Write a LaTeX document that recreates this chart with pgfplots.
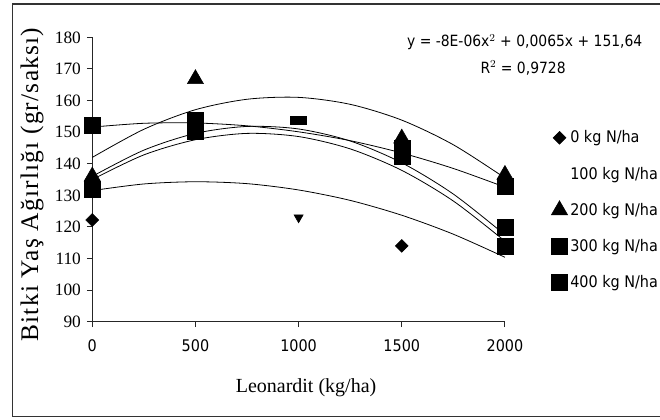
\documentclass[border=0pt]{standalone}
\usepackage{fontspec}
\setmainfont{Liberation Serif}
\newfontfamily\tah{DejaVu Sans Condensed}
\newfontfamily\ylab[LetterSpace=5]{Liberation Serif}
\usepackage{pgfplots}
\pgfplotsset{compat=1.18}

\begin{document}
\begin{tikzpicture}
\begin{axis}[
    scale only axis,
    width=309.5pt, height=213.3pt,
    xmin=0, xmax=2000, ymin=90, ymax=180,
    axis lines*=left,
    axis line style={black!85, line width=0.8pt},
    xtick={0,500,...,2000},
    ytick={90,100,...,180},
    tick align=outside,
    major tick length=4pt,
    tick style={black!85, line width=0.8pt},
    /pgf/number format/assume math mode=true,
    /pgf/number format/1000 sep={},
    xticklabel style={font=\tah\fontsize{12}{12}\selectfont, yshift=-6pt},
    yticklabel style={font=\fontsize{13}{12}\selectfont, xshift=-1pt},
    xlabel={Leonardit (kg/ha)},
    xlabel style={at={(axis description cs:0.518,-0.2335)}, anchor=center,
        font=\fontsize{15}{15}\selectfont},
    ylabel={Bitki Yaş Ağırlığı (gr/saksı)},
    ylabel style={at={(axis description cs:-0.146,0.482)}, anchor=center,
        font=\ylab\fontsize{19}{19}\selectfont},
    clip=false,
    legend style={at={(axis description cs:1.112,0.682)}, anchor=north west,
        draw=none, fill=none, font=\tah\fontsize{12}{13}\selectfont,
        row sep=12.5pt, inner sep=0pt},
    legend cell align=left,
    legend image code/.code={\draw[mark repeat=2,mark phase=2,#1]
        plot coordinates {(0cm,0cm) (0.15cm,0cm) (0.3cm,0cm)};},
    trend/.style={black, line width=0.6pt, smooth, mark=none, forget plot},
]
% quadratic trend lines
\addplot[trend] coordinates {(0,142) (250,150.9) (500,157.1) (750,160.4) (1000,161)
    (1250,158.8) (1500,153.8) (1750,146) (2000,135.5)};
\addplot[trend] coordinates {(0,151.6) (250,152.8) (500,152.9) (750,152) (1000,150.1)
    (1250,147.3) (1500,143.4) (1750,138.5) (2000,132.6)};
\addplot[trend] coordinates {(0,136) (250,144.3) (500,149.6) (750,151.8) (1000,151)
    (1250,147.2) (1500,140.3) (1750,130.4) (2000,117.5)};
\addplot[trend] coordinates {(0,135) (250,142.8) (500,147.6) (750,149.6) (1000,148.6)
    (1250,144.7) (1500,137.9) (1750,128.2) (2000,115.5)};
\addplot[trend] coordinates {(0,131.5) (250,133.6) (500,134.3) (750,133.7) (1000,131.7)
    (1250,128.4) (1500,123.7) (1750,117.7) (2000,110.4)};

% measured points
\addplot[only marks, mark=square*, mark size=3.4pt, mark options={rotate=45, black}]
    coordinates {(0,122.2) (1500,114)};
\addlegendentry{0 kg N/ha}
\addlegendimage{opacity=0, mark=none}
\addlegendentry{100 kg N/ha}
\addplot[only marks, mark=triangle*, mark size=7pt, mark options={black}]
    coordinates {(0,136) (500,166.8) (1500,148) (2000,136.5)};
\addlegendentry{200 kg N/ha}
\addplot[only marks, mark=square*, mark size=6pt, mark options={black}]
    coordinates {(0,152.3) (500,153.8) (1500,145) (2000,133)};
\addlegendentry{300 kg N/ha}
\addplot[only marks, mark=square*, mark size=6pt, mark options={black}]
    coordinates {(0,132) (500,150.3) (1500,142.5) (2000,120) (2000,114)};
\addlegendentry{400 kg N/ha}
\addplot[only marks, mark=square*, mark size=6pt, mark options={black, yscale=0.5},
    forget plot] coordinates {(1000,153.8)};
\addplot[only marks, mark=triangle*, mark size=4pt, mark options={black, rotate=180},
    forget plot] coordinates {(1000,123)};

\node[font=\tah\fontsize{11.6}{12}\selectfont] at (axis description cs:1.048,0.983)
    {y = -8E-06x$^2$ + 0,0065x + 151,64};
\node[font=\tah\fontsize{11.6}{12}\selectfont] at (axis description cs:1.044,0.891)
    {R$^2$ = 0,9728};
\end{axis}
\draw[black!80, line width=1pt] (440pt,238.3pt) -- (-59.7pt,238.3pt)
    -- (-59.7pt,-71.25pt) -- (440pt,-71.25pt);
\pgfresetboundingbox
\path[use as bounding box] (-69.2pt,-73pt) rectangle (425.8pt,241.3pt);
\end{tikzpicture}
\end{document}
